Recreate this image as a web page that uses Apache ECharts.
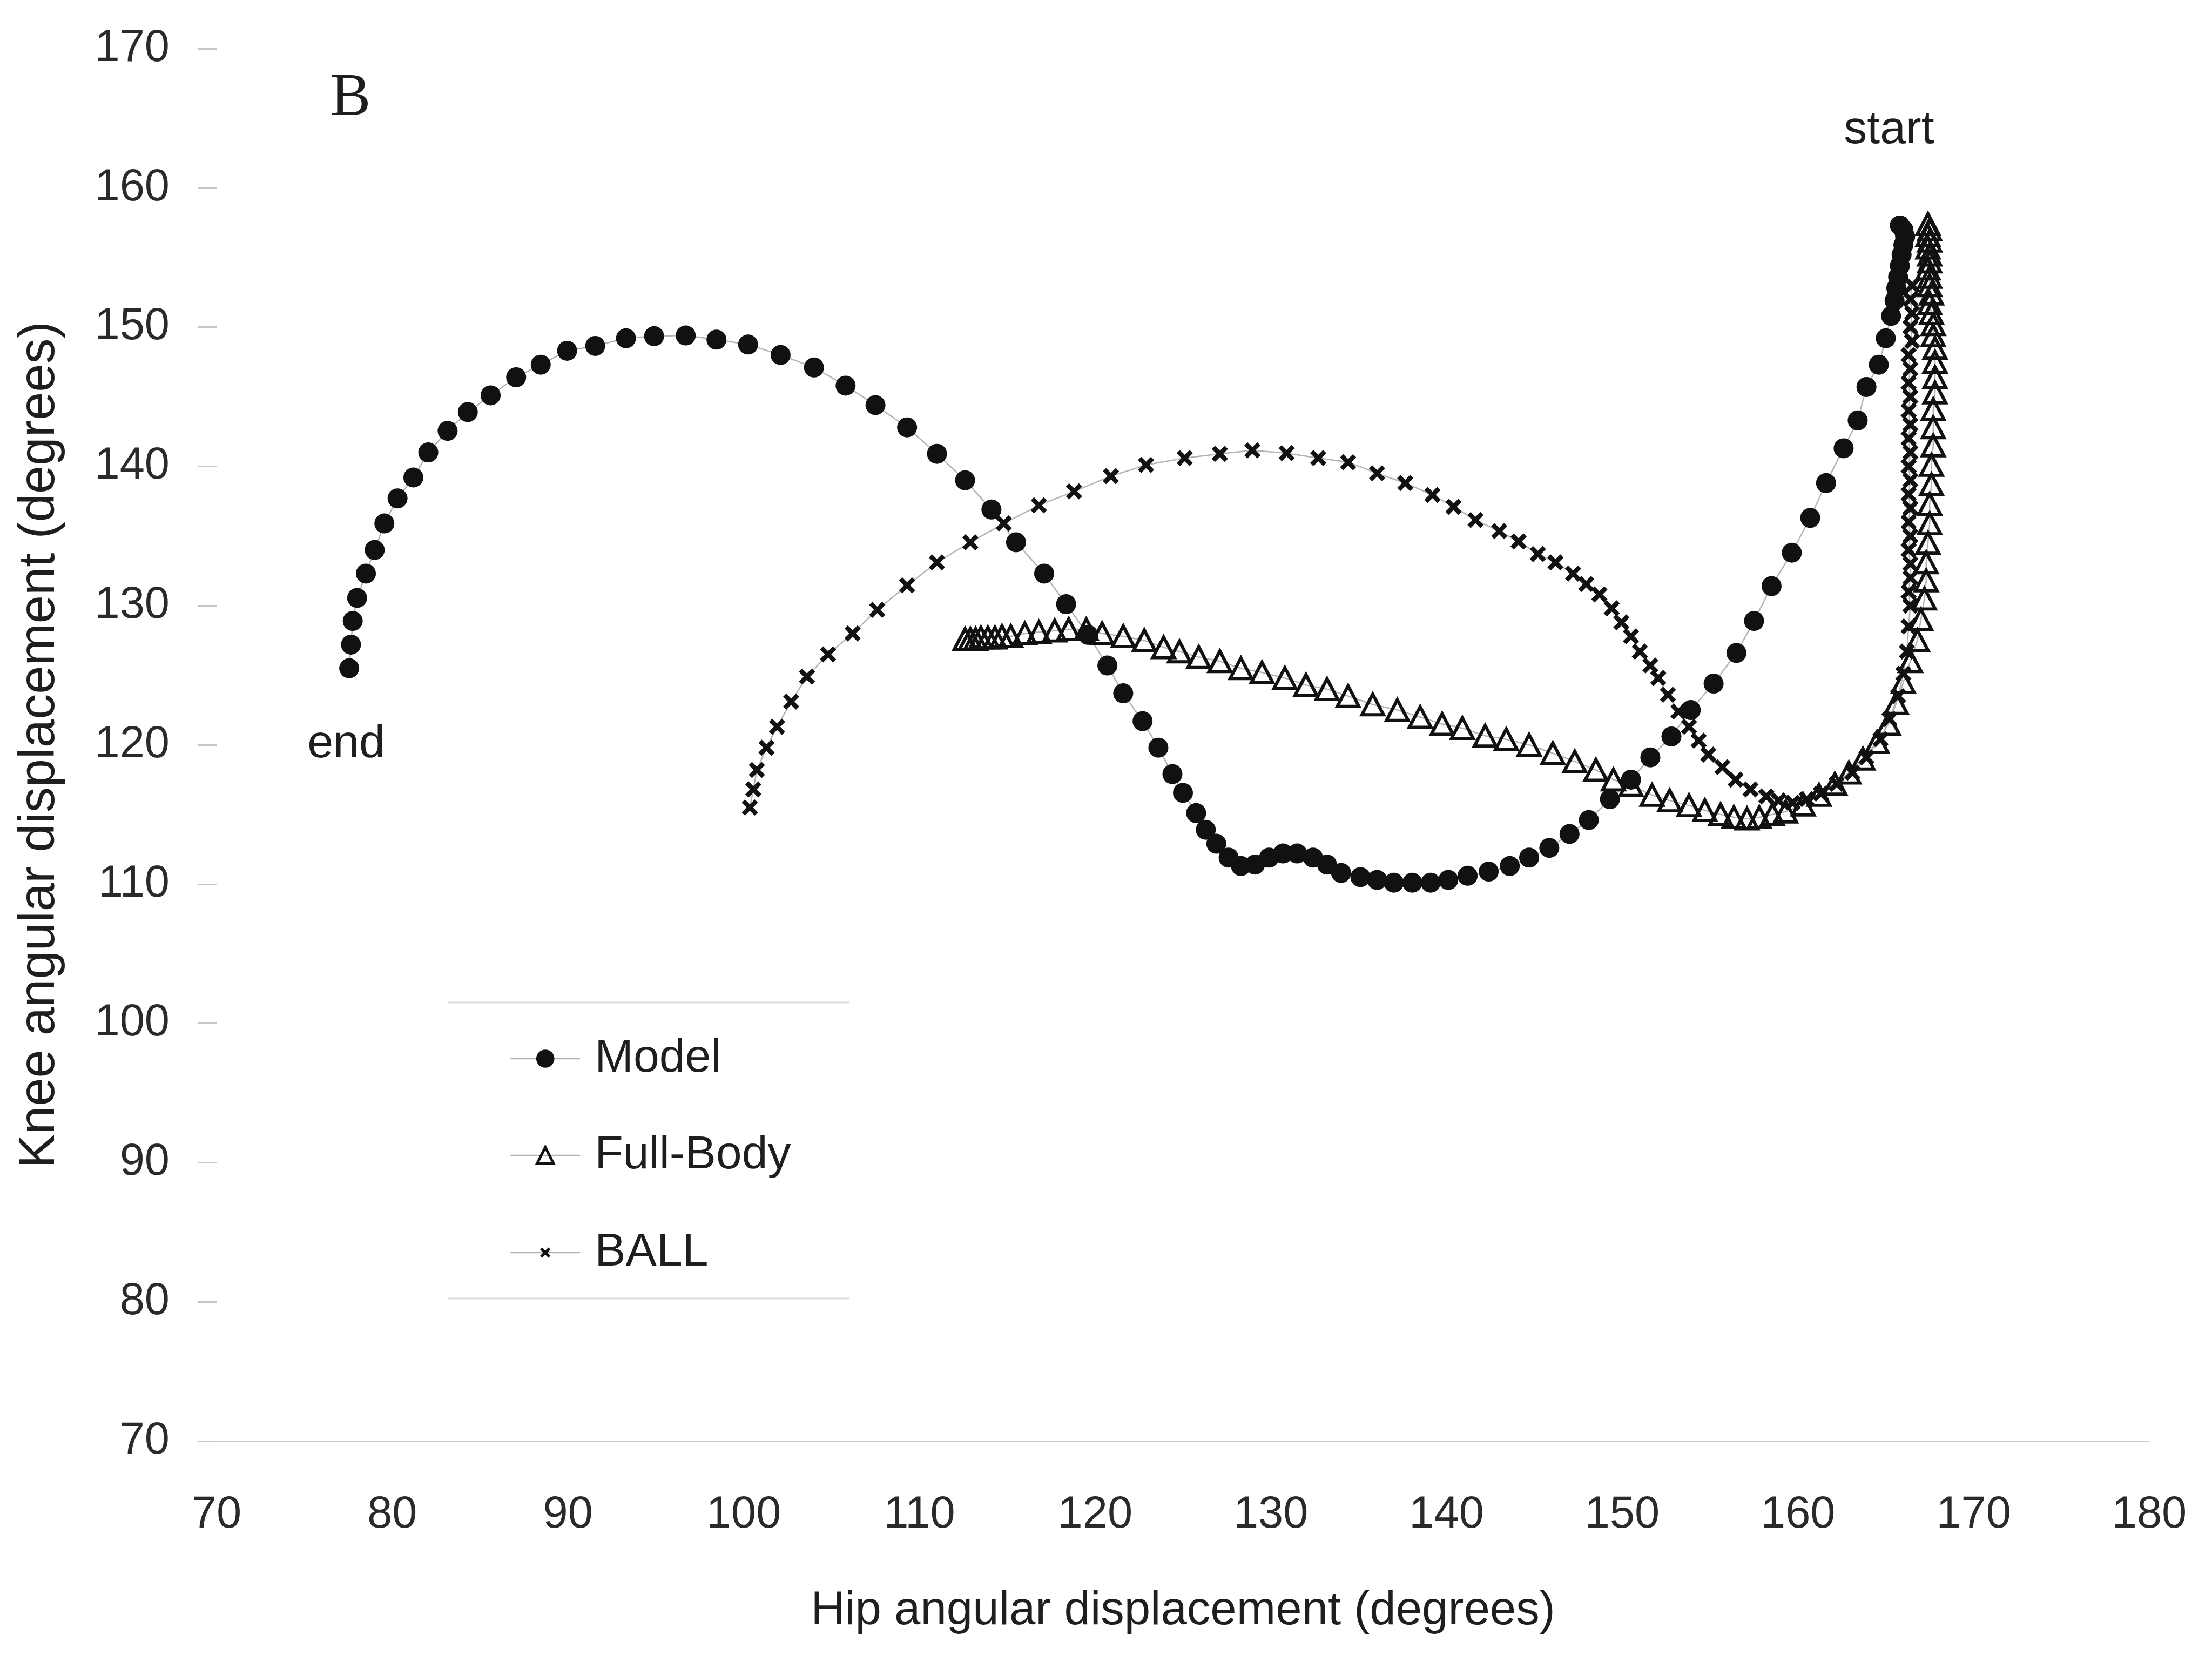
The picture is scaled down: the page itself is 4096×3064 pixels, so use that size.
<!DOCTYPE html>
<html>
<head>
<meta charset="utf-8">
<script src="https://cdn.jsdelivr.net/npm/echarts/dist/echarts.min.js"></script>
<style>
  html, body { margin: 0; padding: 0; background: #ffffff; }
  #chart { width: 4096px; height: 3064px; }
</style>
</head>
<body>
<div id="chart"></div>
<script>
// Hip (x) and knee (y) angular displacement in degrees, ordered from "start" to "end".
const modelHip = [165.8,166.0,166.1,166.0,165.9,165.8,165.7,165.6,165.5,165.3,165.0,164.6,163.9,163.4,162.6,161.6,160.7,159.65,158.5,157.5,156.5,155.2,153.9,152.8,151.6,150.5,149.3,148.1,147.0,145.85,144.7,143.6,142.4,141.2,140.1,139.1,138.05,137.0,136.05,135.1,134.0,133.2,132.4,131.5,130.7,129.9,129.1,128.3,127.6,126.9,126.3,125.75,125.0,124.4,123.6,122.7,121.6,120.7,119.6,118.35,117.1,115.5,114.1,112.6,111.0,109.3,107.5,105.8,104.0,102.1,100.25,98.45,96.7,94.9,93.3,91.55,89.95,88.45,87.05,85.6,84.3,83.15,82.05,81.2,80.3,79.55,79.0,78.5,78.0,77.75,77.65,77.55];
const modelKnee = [157.3,157.0,156.5,155.9,155.2,154.4,153.6,152.8,151.9,150.8,149.2,147.3,145.7,143.3,141.3,138.8,136.3,133.8,131.4,128.9,126.6,124.4,122.5,120.6,119.1,117.5,116.1,114.6,113.6,112.6,111.9,111.3,110.9,110.6,110.3,110.1,110.1,110.1,110.3,110.5,110.8,111.4,111.9,112.2,112.2,111.9,111.4,111.3,111.9,112.9,113.9,115.1,116.55,117.9,119.8,121.7,123.7,125.7,127.9,130.1,132.3,134.55,136.9,139.0,140.9,142.8,144.4,145.8,147.1,148.0,148.75,149.1,149.4,149.35,149.2,148.65,148.3,147.3,146.4,145.1,143.9,142.55,141.0,139.2,137.7,135.9,134.0,132.3,130.55,128.9,127.2,125.5];

const fullBodyHip = [167.4,167.5,167.4,167.5,167.4,167.5,167.5,167.4,167.5,167.5,167.6,167.5,167.6,167.7,167.7,167.8,167.8,167.8,167.8,167.7,167.7,167.7,167.6,167.6,167.5,167.5,167.4,167.3,167.3,167.2,167.0,166.8,166.4,166.0,165.6,165.15,164.5,163.7,162.9,162.1,161.2,160.3,159.3,158.55,157.8,157.1,156.35,155.6,154.7,153.8,152.7,151.7,150.5,149.5,148.5,147.3,146.05,144.7,143.4,142.2,140.9,139.75,138.5,137.2,135.8,134.4,133.2,132.0,130.8,129.5,128.3,127.1,125.9,124.8,123.9,122.8,121.6,120.4,119.5,118.5,117.7,116.8,116.0,115.2,114.7,114.3,113.9,113.5,113.2,112.9,112.6];
const fullBodyKnee = [157.4,157.0,156.6,156.2,155.7,155.2,154.7,154.2,153.6,153.0,152.4,151.7,151.0,150.2,149.4,148.5,147.5,146.4,145.3,144.1,142.8,141.5,140.1,138.7,137.3,135.9,134.5,133.1,131.8,130.5,129.0,127.5,126.0,124.5,123.0,121.5,120.2,119.0,118.0,117.2,116.4,115.7,115.2,115.0,114.8,114.7,114.8,115.0,115.3,115.65,116.0,116.4,117.1,117.5,118.2,118.8,119.4,120.0,120.4,120.65,121.2,121.5,122.0,122.5,122.9,123.5,124.0,124.3,124.8,125.2,125.5,126.0,126.3,126.7,127.0,127.5,127.8,128.0,128.3,128.3,128.2,128.1,128.0,127.8,127.8,127.7,127.7,127.7,127.6,127.6,127.6];

const ballHip = [166.5,166.4,166.5,166.4,166.5,166.3,166.4,166.3,166.4,166.3,166.4,166.3,166.4,166.3,166.4,166.3,166.4,166.3,166.4,166.3,166.4,166.4,166.3,166.4,166.3,166.2,166.0,165.7,165.2,164.7,163.9,163.1,162.2,161.3,160.5,159.7,158.9,158.2,157.3,156.45,155.7,154.9,154.35,153.8,153.2,152.6,152.05,151.6,151.0,150.5,149.95,149.4,148.7,147.95,147.2,146.2,145.2,144.1,143.0,141.65,140.4,139.2,137.65,136.05,134.4,132.7,130.9,128.95,127.1,125.1,122.9,120.9,118.8,116.8,114.8,112.9,111.0,109.3,107.6,106.2,104.8,103.6,102.7,101.9,101.3,100.75,100.55,100.35];
const ballKnee = [153.0,152.0,151.0,150.0,149.0,148.0,147.0,146.0,145.0,144.0,143.0,142.0,141.0,140.0,139.0,138.0,137.0,136.0,135.0,134.0,133.0,132.0,131.0,130.0,128.5,126.7,125.1,123.5,121.85,120.4,119.1,118.0,117.2,116.5,116.1,115.85,116.0,116.3,116.8,117.5,118.4,119.3,120.3,121.3,122.4,123.6,124.8,125.7,126.7,127.8,128.8,129.8,130.8,131.55,132.3,133.1,133.7,134.6,135.35,136.15,137.1,137.95,138.8,139.5,140.3,140.6,140.95,141.15,140.9,140.6,140.1,139.3,138.2,137.2,135.9,134.55,133.1,131.45,129.7,128.0,126.5,124.9,123.1,121.3,119.8,118.2,116.8,115.5];

const seriesNames = ['Model', 'Full-Body', 'BALL'];
const xTitle = 'Hip angular displacement (degrees)';
const yTitle = 'Knee angular displacement (degrees)';

const FONT = '"Liberation Sans", Arial, sans-serif';
const INK = '#1e1e1e';
const LINK = '#b4b4b4';
const CROSS = 'path://M0,2L2,0L5,3L8,0L10,2L7,5L10,8L8,10L5,7L2,10L0,8L3,5Z';

const zip = (xs, ys) => xs.map((x, i) => [x, ys[i]]);

const chart = echarts.init(document.getElementById('chart'), null, { renderer: 'canvas' });

function legendFor(name, top, itemHeight, extra) {
  return Object.assign({
    data: [name],
    orient: 'vertical',
    left: 939,
    top: top,
    itemWidth: 129,
    itemHeight: itemHeight,
    selectedMode: false,
    lineStyle: { width: 2.5, color: LINK },
    textStyle: { fontFamily: FONT, fontSize: 86, color: INK, lineHeight: 100, padding: [0, 0, 0, 22] }
  }, extra || {});
}

chart.setOption({
  animation: false,
  backgroundColor: '#ffffff',
  grid: { left: 401, right: 116, top: 90, bottom: 396, containLabel: false },
  xAxis: {
    type: 'value', min: 70, max: 180, interval: 10,
    name: xTitle, nameLocation: 'middle', nameGap: 272,
    nameTextStyle: { fontFamily: FONT, fontSize: 87, color: INK },
    axisLine: { show: true, lineStyle: { color: '#cdcdcd', width: 3 } },
    axisTick: { show: false },
    splitLine: { show: false },
    axisLabel: { fontFamily: FONT, fontSize: 83, color: '#2a2a2a', margin: 96 }
  },
  yAxis: {
    type: 'value', min: 70, max: 170, interval: 10,
    name: yTitle, nameLocation: 'middle', nameGap: 280, nameRotate: 90,
    nameTextStyle: { fontFamily: FONT, fontSize: 94, color: INK },
    axisLine: { show: false },
    axisTick: { show: true, length: 34, lineStyle: { color: '#c6c6c6', width: 3 } },
    splitLine: { show: false },
    axisLabel: { fontFamily: FONT, fontSize: 83, color: '#2a2a2a', margin: 87 }
  },
  legend: [
    legendFor('Model', 1905, 42),
    legendFor('Full-Body', 2084, 38, { itemStyle: { borderWidth: 5, borderColor: '#111111' } }),
    legendFor('BALL', 2264, 24)
  ],
  series: [
    {
      name: seriesNames[0], type: 'line', data: zip(modelHip, modelKnee),
      symbol: 'circle', symbolSize: 37, showAllSymbol: true, silent: true,
      itemStyle: { color: '#111111', borderWidth: 0 },
      lineStyle: { color: LINK, width: 2.5 },
      emphasis: { disabled: true }
    },
    {
      name: seriesNames[1], type: 'line', data: zip(fullBodyHip, fullBodyKnee),
      symbol: 'triangle', symbolSize: [40, 38], showAllSymbol: true, silent: true,
      itemStyle: { color: 'rgba(255,255,255,0)', borderColor: '#111111', borderWidth: 6 },
      lineStyle: { color: LINK, width: 2.5 },
      emphasis: { disabled: true }
    },
    {
      name: seriesNames[2], type: 'line', data: zip(ballHip, ballKnee),
      symbol: CROSS, symbolSize: 30, showAllSymbol: true, silent: true,
      itemStyle: { color: '#111111', borderWidth: 0 },
      lineStyle: { color: LINK, width: 2.5 },
      emphasis: { disabled: true }
    }
  ],
  graphic: [
    { type: 'text', x: 649, y: 184, style: { text: 'B', font: '112px "Liberation Serif", "Times New Roman", serif', fill: INK, align: 'center', verticalAlign: 'middle' } },
    { type: 'text', x: 3498, y: 241, style: { text: 'start', font: '86px ' + FONT, fill: INK, align: 'center', verticalAlign: 'middle' } },
    { type: 'text', x: 641, y: 1378, style: { text: 'end', font: '86px ' + FONT, fill: INK, align: 'center', verticalAlign: 'middle' } },
    { type: 'line', shape: { x1: 830, y1: 1856, x2: 1573, y2: 1856 }, style: { stroke: '#dcdcdc', lineWidth: 3 } },
    { type: 'line', shape: { x1: 830, y1: 2404, x2: 1573, y2: 2404 }, style: { stroke: '#dcdcdc', lineWidth: 3 } }
  ]
});
</script>
</body>
</html>
